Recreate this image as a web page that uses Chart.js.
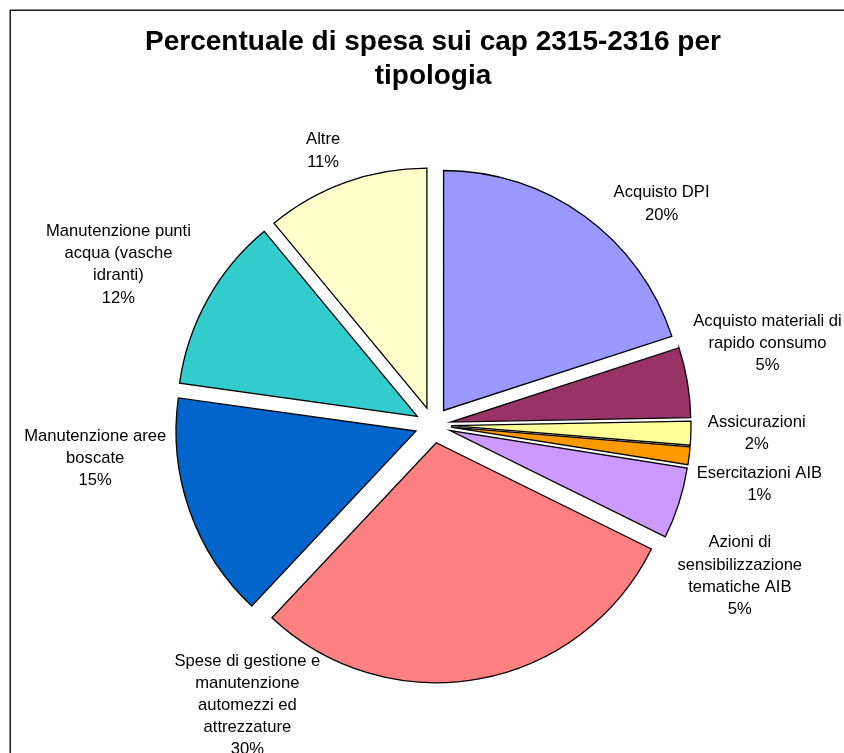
<!DOCTYPE html>
<html lang="it">
<head>
<meta charset="utf-8">
<title>Percentuale di spesa sui cap 2315-2316 per tipologia</title>
<script src="https://cdn.jsdelivr.net/npm/chart.js@4/dist/chart.umd.min.js"></script>
<style>
  html, body { margin: 0; padding: 0; background: #ffffff; }
  #wrap { width: 844px; height: 753px; }
</style>
</head>
<body>
<div id="wrap"><canvas id="spesa" width="844" height="753"></canvas></div>
<script>
// ---- data ----------------------------------------------------------------
const titleLines = ['Percentuale di spesa sui cap 2315-2316 per', 'tipologia'];

const categories = [
  'Acquisto DPI',
  'Acquisto materiali di rapido consumo',
  'Assicurazioni',
  'Esercitazioni AIB',
  'Azioni di sensibilizzazione tematiche AIB',
  'Spese di gestione e manutenzione automezzi ed attrezzature',
  'Manutenzione aree boscate',
  'Manutenzione punti acqua (vasche idranti)',
  'Altre'
];

// share of spending per category (%)
const shares = [20.0, 4.7, 1.6, 1.2, 4.8, 29.7, 15.2, 11.8, 11.0];

// ---- styling ---------------------------------------------------------------
const sliceColors = [
  '#9999FF', '#993366', '#FFFF99', '#FF9900', '#CC99FF',
  '#FF8080', '#0066CC', '#33CCCC', '#FFFFCC'
];

const FONT_FAMILY = '"Liberation Sans", Arial, Helvetica, sans-serif';
const PIE_RADIUS = 240;     // px
const EXPLODE = 18;         // px each slice is pulled out of the pie
const LABEL_FONT_SIZE = 16.6;
const LABEL_LINE = 22.2;
const LABEL_GAP = 8;
const WRAP_EM = 9.4;        // wrap width of the data labels, in em
// fine placement of each data label, relative to its default spot
const labelNudge = [
  [44, 12], [-1, -32], [9, -1], [0, 25], [-6, 57],
  [-246, -36], [-20, -66], [-19, -9], [-14, -3]
];

// ---- exploded slices: move every arc outwards along its bisector ------------
const ArcEl = Chart.ArcElement || Chart.registry.getElement('arc');
const baseArcDraw = ArcEl.prototype.draw;
ArcEl.prototype.draw = function (ctx, area) {
  const mid = (this.startAngle + this.endAngle) / 2;
  ctx.save();
  ctx.translate(Math.cos(mid) * EXPLODE, Math.sin(mid) * EXPLODE);
  baseArcDraw.call(this, ctx, area);
  ctx.restore();
};

function wrapWords(ctx, text, maxWidth) {
  const words = text.split(' ');
  const lines = [];
  let cur = '';
  for (const w of words) {
    const test = cur ? cur + ' ' + w : w;
    if (cur && ctx.measureText(test).width > maxWidth) {
      lines.push(cur);
      cur = w;
    } else {
      cur = test;
    }
  }
  if (cur) lines.push(cur);
  return lines;
}

// category name + percentage next to each slice
const sliceLabels = {
  id: 'sliceLabels',
  afterDatasetsDraw(chart) {
    const meta = chart.getDatasetMeta(0);
    const values = chart.data.datasets[0].data;
    const total = values.reduce((a, b) => a + b, 0);
    const ctx = chart.ctx;
    ctx.save();
    ctx.font = LABEL_FONT_SIZE + 'px ' + FONT_FAMILY;
    ctx.fillStyle = '#000000';
    ctx.textAlign = 'center';
    ctx.textBaseline = 'middle';
    meta.data.forEach((arc, i) => {
      const p = arc.getProps(['x', 'y', 'startAngle', 'endAngle', 'outerRadius'], true);
      const mid = (p.startAngle + p.endAngle) / 2;
      const dx = Math.cos(mid), dy = Math.sin(mid);
      const lines = wrapWords(ctx, chart.data.labels[i], WRAP_EM * LABEL_FONT_SIZE);
      lines.push(Math.round(values[i] / total * 100) + '%');
      const w = Math.max(...lines.map(l => ctx.measureText(l).width));
      const h = lines.length * LABEL_LINE;
      const d = p.outerRadius + EXPLODE + LABEL_GAP;
      const cx = p.x + dx * d + dx * w / 2 + labelNudge[i][0];
      const cy = p.y + dy * d + dy * h / 2 + labelNudge[i][1];
      lines.forEach((l, k) => {
        ctx.fillText(l, cx, cy - h / 2 + LABEL_LINE * (k + 0.5));
      });
    });
    ctx.restore();
  }
};

// white page with the chart frame running off the right and bottom edges
const chartFrame = {
  id: 'chartFrame',
  beforeDraw(chart) {
    const ctx = chart.ctx;
    ctx.save();
    ctx.fillStyle = '#ffffff';
    ctx.fillRect(0, 0, chart.width, chart.height);
    ctx.restore();
  },
  afterDraw(chart) {
    const ctx = chart.ctx;
    ctx.save();
    ctx.strokeStyle = '#1a1a1a';
    ctx.lineWidth = 1.5;
    ctx.beginPath();
    ctx.moveTo(10.25, chart.height + 2);
    ctx.lineTo(10.25, 10.25);
    ctx.lineTo(chart.width + 2, 10.25);
    ctx.stroke();
    ctx.restore();
  }
};

new Chart(document.getElementById('spesa'), {
  type: 'pie',
  data: {
    labels: categories,
    datasets: [{
      data: shares,
      backgroundColor: sliceColors,
      borderColor: '#000000',
      borderWidth: 1.3,
      borderJoinStyle: 'miter',
      hoverOffset: 0,
      offset: 0
    }]
  },
  options: {
    responsive: false,
    animation: false,
    radius: PIE_RADIUS,
    layout: { padding: { left: 22, right: 0, top: 0, bottom: 0 } },
    events: [],
    plugins: {
      legend: { display: false },
      tooltip: { enabled: false },
      title: {
        display: true,
        text: titleLines,
        color: '#000000',
        font: { family: FONT_FAMILY, size: 28, weight: 'bold', lineHeight: 1.2 },
        padding: { top: 25.5, bottom: 4.4 }
      }
    }
  },
  plugins: [chartFrame, sliceLabels]
});
</script>
</body>
</html>
